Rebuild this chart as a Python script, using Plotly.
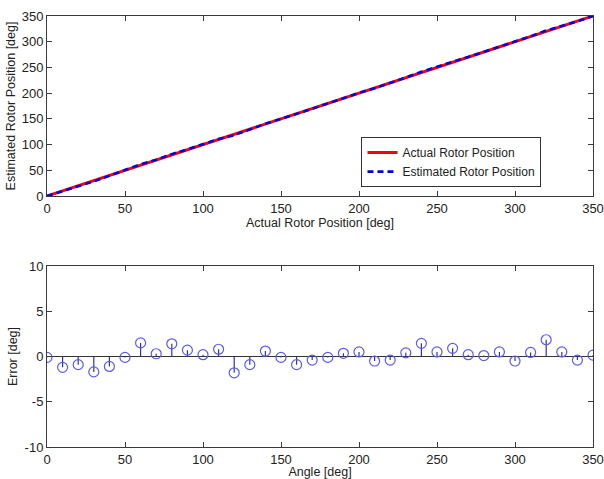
import plotly.graph_objects as go

angles = [0, 10, 20, 30, 40, 50, 60, 70, 80, 90, 100, 110, 120, 130, 140, 150, 160, 170,
          180, 190, 200, 210, 220, 230, 240, 250, 260, 270, 280, 290, 300, 310, 320, 330, 340, 350]
errors = [-0.1, -1.2, -0.9, -1.7, -1.1, -0.1, 1.5, 0.3, 1.4, 0.7, 0.2, 0.8, -1.8,
          -0.9, 0.6, -0.1, -0.9, -0.4, -0.1, 0.35, 0.5, -0.5, -0.4, 0.4, 1.45,
          0.5, 0.9, 0.2, 0.1, 0.5, -0.5, 0.45, 1.85, 0.5, -0.4, 0.15]
actual = angles
estimated = [-0.1, 8.8, 19.1, 28.3, 38.9, 49.9, 61.5, 70.3, 81.4, 90.7, 100.2, 110.8, 118.2,
             129.1, 140.6, 149.9, 159.1, 169.6, 179.9, 190.35, 200.5, 209.5, 219.6, 230.4, 241.45,
             250.5, 260.9, 270.2, 280.1, 290.5, 299.5, 310.45, 321.85, 330.5, 339.6, 350.15]

x_ticks_top = [0, 50, 100, 150, 200, 250, 300, 350]
y_ticks_top = [0, 50, 100, 150, 200, 250, 300, 350]
y_ticks_bot = [-10, -5, 0, 5, 10]
y_labels_bot = ["-10", "-5", "0", "5", "10"]

FONT = "Liberation Sans, Arial, sans-serif"
AX = "#3a3a3a"

fig = go.Figure()
fig.add_trace(go.Scatter(x=actual, y=actual, mode="lines", name="Actual Rotor Position",
                         line=dict(color="#ff0000", width=3), xaxis="x", yaxis="y"))
fig.add_trace(go.Scatter(x=actual, y=estimated, mode="lines", name="Estimated Rotor Position",
                         line=dict(color="#0000e6", width=2.6, dash="6px,4px"), xaxis="x", yaxis="y"))

# stems
sx, sy = [], []
for a, e in zip(angles, errors):
    sx += [a, a, None]
    sy += [0, e, None]
fig.add_trace(go.Scatter(x=sx, y=sy, mode="lines", line=dict(color="#3030b0", width=1.2),
                         showlegend=False, xaxis="x2", yaxis="y2", hoverinfo="skip"))
fig.add_trace(go.Scatter(x=angles, y=errors, mode="markers", showlegend=False,
                         marker=dict(symbol="circle-open", size=10, color="#5a5af0",
                                     line=dict(width=1.2, color="#5a5af0")),
                         xaxis="x2", yaxis="y2"))

common = dict(showline=True, linecolor=AX, linewidth=1, mirror="allticks", ticks="inside",
              ticklen=5, tickcolor=AX, showgrid=False, automargin=False,
              ticklabeloverflow="allow",
              tickfont=dict(family=FONT, size=13, color="#222"))
tfont = dict(family=FONT, size=12.5, color="#222")

fig.update_layout(
    width=604, height=479,
    margin=dict(l=47, r=11, t=16, b=32),
    paper_bgcolor="white", plot_bgcolor="white",
    font=dict(family=FONT, size=12, color="#222"),
    xaxis=dict(domain=[0, 1], range=[0, 350], tickvals=x_ticks_top, anchor="y", zeroline=False,
               title=dict(text="Actual Rotor Position [deg]", standoff=0, font=tfont), **common),
    yaxis=dict(domain=[0.5824, 1], range=[0, 350], tickvals=y_ticks_top, anchor="x", zeroline=False,
               title=dict(text="Estimated Rotor Position [deg]", standoff=3, font=tfont), **common),
    xaxis2=dict(domain=[0, 1], range=[0, 350], tickvals=x_ticks_top, anchor="y2", zeroline=False,
                title=dict(text="Angle [deg]", standoff=1, font=tfont), **common),
    yaxis2=dict(domain=[0, 0.42], range=[-10, 10], tickvals=y_ticks_bot, ticktext=y_labels_bot,
                anchor="x2", title=dict(text="Error [deg]", standoff=4, font=tfont),
                zeroline=True, zerolinecolor="#333", zerolinewidth=1, **common),
    legend=dict(x=0.576, y=0.719, xanchor="left", yanchor="top", bgcolor="white",
                bordercolor="#333", borderwidth=1, font=dict(family=FONT, size=12, color="#222"),
                tracegroupgap=0),
    showlegend=True,
)

fig.write_html("out.html", config={"displayModeBar": False},
               post_script="document.body.style.margin='0';document.body.style.overflow='hidden';")
